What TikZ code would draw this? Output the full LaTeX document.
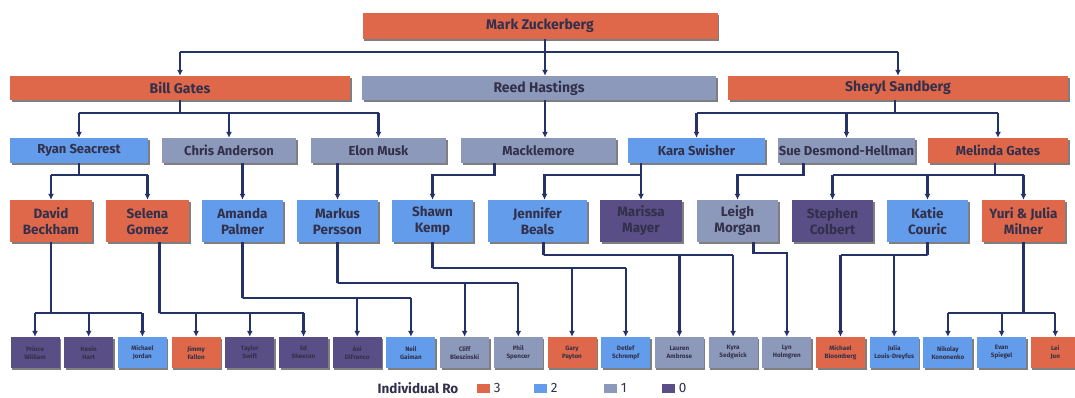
\documentclass[tikz,border=0pt]{standalone}
\usepackage{fontspec}
\setmainfont{Fira Sans}
\usepackage{tikz}
\usetikzlibrary{arrows.meta, positioning, shadows}
\definecolor{rthree}{RGB}{224,104,74}
\definecolor{rtwo}{RGB}{98,156,234}
\definecolor{rone}{RGB}{140,153,186}
\definecolor{rzero}{RGB}{89,78,133}
\definecolor{wire}{RGB}{36,50,104}
\definecolor{ink}{RGB}{50,48,74}

\begin{document}
\begin{tikzpicture}[x=1pt, y=-1pt,
  box/.style={rectangle, inner sep=0pt, text=ink,
    font=\bfseries\fontsize{13}{15}\selectfont,
    drop shadow={shadow xshift=1.5pt, shadow yshift=-1.5pt, opacity=.5, fill=black}},
  big/.style={box, font=\bfseries\fontsize{14}{16}\selectfont},
  pair/.style={box, align=center, minimum height=42pt, font=\bfseries\fontsize{13.5}{16}\selectfont},
  leaf/.style={box, align=center, minimum width=49pt, minimum height=31pt, font=\bfseries\fontsize{6.3}{8}\selectfont},
  key/.style={rectangle, inner sep=0pt, minimum width=13pt, minimum height=9pt},
  link/.style={wire, line width=2.2pt},
  arr/.style={link, -{Latex[length=6pt,width=6pt]}}]
  \useasboundingbox (0,0) rectangle (1075,397);
  \node[big, fill=rthree, minimum width=355pt, minimum height=26pt] (mark) at (540,26) {Mark Zuckerberg};
  \foreach \nm/\cx/\w/\fc/\txt in {bill/180/340/rthree/Bill Gates,
                                    reed/539/354/rone/Reed Hastings,
                                    sheryl/898/340/rthree/Sheryl Sandberg}{
    \node[big, fill=\fc, minimum width=\w pt, minimum height=24pt] (\nm) at (\cx,88) {\txt};
  }
  \foreach \nm/\cx/\w/\fc/\txt in {ryan/79/138/rtwo/Ryan Seacrest,
                                    chris/229/134/rone/Chris Anderson,
                                    elon/378.5/135/rone/Elon Musk,
                                    mack/538.5/155/rone/Macklemore,
                                    kara/696.5/137/rtwo/Kara Swisher,
                                    sue/846.5/137/rone/Sue Desmond-Hellman,
                                    melinda/998/140/rthree/Melinda Gates}{
    \node[box, fill=\fc, minimum width=\w pt, minimum height=25pt] (\nm) at (\cx,150.5) {\txt};
  }
  \foreach \nm/\cx/\w/\fc/\txt in {david/51/82/rthree/{David\\Beckham},
                                    selena/147.5/83/rthree/{Selena\\Gomez},
                                    amanda/242.5/81/rtwo/{Amanda\\Palmer},
                                    markus/337.5/81/rtwo/{Markus\\Persson},
                                    shawn/432.5/81/rtwo/{Shawn\\Kemp},
                                    jennifer/537.5/99/rtwo/{Jennifer\\Beals},
                                    marissa/641/82/rzero/{Marissa\\Mayer},
                                    leigh/737.5/81/rone/{Leigh\\Morgan},
                                    stephen/832.5/81/rzero/{Stephen\\Colbert},
                                    katie/927.5/81/rtwo/{Katie\\Couric},
                                    yuri/1023.5/83/rthree/{Yuri \& Julia\\Milner}}{
    \node[pair, fill=\fc, minimum width=\w pt] (\nm) at (\cx,221) {\txt};
  }
  % bottom row
  \foreach \i/\fc/\txt in {1/rzero/{Prince\\William}, 2/rzero/{Kevin\\Hart},
      3/rtwo/{Michael\\Jordan}, 4/rthree/{Jimmy\\Fallon}, 5/rzero/{Taylor\\Swift},
      6/rzero/{Ed\\Sheeran}, 7/rzero/{Ani\\DiFranco}, 8/rtwo/{Neil\\Gaiman},
      9/rone/{Cliff\\Bleszinski}, 10/rone/{Phil\\Spencer}, 11/rthree/{Gary\\Payton},
      12/rtwo/{Detlef\\Schrempf}, 13/rone/{Lauren\\Ambrose}, 14/rone/{Kyra\\Sedgwick},
      15/rone/{Lyn\\Holmgren}, 16/rthree/{Michael\\Bloomberg}, 17/rtwo/{Julia\\Louis-Dreyfus},
      18/rtwo/{Nikolay\\Kononenko}, 19/rtwo/{Evan\\Spiegel}, 20/rthree/{Lei\\Jun}}{
    \node[leaf, fill=\fc] (l\i) at ({35+(\i-1)*53.7},352.5) {\txt};
  }
  % links
  \draw[link] ([xshift=5pt]mark.south) -- ++(0,13) coordinate (jm);
  \draw[link] (jm -| bill) -- (jm -| sheryl);
  \foreach \c in {bill,sheryl} \draw[arr] (jm -| \c) -- (\c.north);
  \draw[arr] (jm) -- (jm |- reed.north);
  \draw[arr] (reed.south -| jm) -- (mack.north -| jm);
  \draw[link] (bill.south) -- ++(0,13) coordinate (jb);
  \draw[link] (jb -| ryan) -- (jb -| elon);
  \foreach \c in {ryan,chris,elon} \draw[arr] (jb -| \c) -- (\c.north);
  \draw[link] ([xshift=-3pt]sheryl.south) -- ++(0,13) coordinate (js);
  \draw[link] (js -| kara) -- (js -| melinda);
  \foreach \c in {kara,sue,melinda} \draw[arr] (js -| \c) -- (\c.north);
  \draw[link] (ryan.south) -- ++(0,12) coordinate (jr);
  \draw[link] (jr -| david) -- (jr -| selena);
  \foreach \c in {david,selena} \draw[arr] (jr -| \c) -- (\c.north);
  \draw[arr] (chris.south -| amanda) -- (amanda.north);
  \draw[arr] (elon.south -| markus) -- (markus.north);
  \draw[arr] ([xshift=-44pt]mack.south) -- ++(0,12) -| (shawn.north);
  \draw[arr] (kara.south -| marissa) -- (marissa.north);
  \draw[arr] (kara.south -| marissa) ++(0,12) -| ([xshift=7pt]jennifer.north);
  \draw[arr] ([xshift=-43pt]sue.south) -- ++(0,12) -| (leigh.north);
  \draw[link] ([xshift=-3pt]melinda.south) -- ++(0,12) coordinate (jg);
  \draw[link] (jg -| stephen) -- (jg -| yuri);
  \foreach \c in {stephen,katie,yuri} \draw[arr] (jg -| \c) -- (\c.north);
  \foreach \p/\dx/\dy/\a/\b in {david/0/71/1/3, selena/12/71/4/6, amanda/0/56/7/8,
                                markus/0/41/9/10, shawn/0/26/11/12, jennifer/6/13/13/14,
                                katie/0/13/16/17, yuri/0/71/18/20}{
    \draw[link] ([xshift=\dx pt]\p.south) -- ++(0,\dy) coordinate (j\p);
    \draw[link] (j\p -| l\a) -- (j\p) -- (j\p -| l\b);
    \foreach \i in {\a,...,\b} \draw[arr] (j\p -| l\i) -- (l\i.north);
  }
  \draw[arr] ([xshift=16pt]leigh.south) -- ++(0,11) -| (l15.north);
  % legend
  \node[font=\bfseries\fontsize{13.5}{15}\selectfont, text=ink] (ro) at (418,388) {Individual Ro};
  \foreach \k/\fc/\lx in {3/rthree/483, 2/rtwo/540, 1/rone/610, 0/rzero/668}{
    \node[key, fill=\fc] (key\k) at (\lx,388) {};
    \node[right=4pt of key\k, inner sep=0pt, text=ink, font=\fontsize{13.5}{15}\selectfont] (lab\k) {\k};
  }
\end{tikzpicture}
\end{document}
